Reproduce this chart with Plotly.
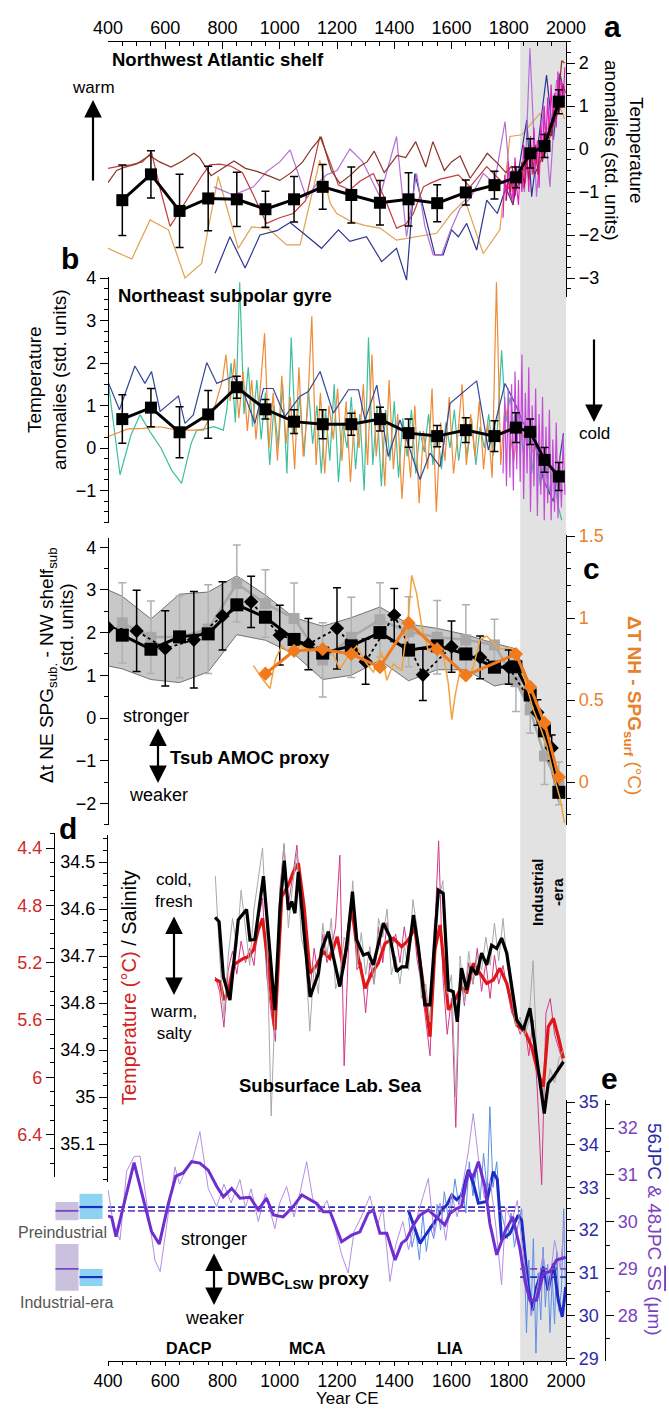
import plotly.graph_objects as go

FONT = "Liberation Sans, Arial, Helvetica, sans-serif"
W, H = 669, 1409
PLOT_L, PLOT_R = 108, 566
YEAR_MIN, YEAR_MAX = 400, 2000
INDUSTRIAL_START = 1840

# ---------------- a: Northwest Atlantic shelf (std. units) ----------------
bin_years = [450, 550, 650, 750, 850, 950, 1050, 1150, 1250, 1350, 1450, 1550,
             1650, 1750, 1825, 1875, 1925, 1975]
a_mean = [-1.19, -0.59, -1.44, -1.15, -1.17, -1.40, -1.17, -0.88, -1.07, -1.25,
          -1.17, -1.26, -1.01, -0.84, -0.66, -0.10, 0.07, 1.10]
a_err = [0.82, 0.55, 0.85, 0.75, 0.63, 0.42, 0.53, 0.52, 0.65, 0.52,
         0.62, 0.43, 0.29, 0.32, 0.24, 0.34, 0.27, 0.28]

a_maroon_years = [400, 430, 460, 500, 545, 580, 620, 660, 700, 720,
                  760, 800, 840, 880, 920, 960, 1000, 1040, 1080, 1110,
                  1145, 1180, 1210, 1245, 1280, 1305, 1330, 1365, 1410, 1440,
                  1475, 1510, 1535, 1575, 1600, 1630, 1665, 1700, 1725, 1760,
                  1790, 1810, 1830, 1850, 1870, 1890, 1910, 1930, 1950, 1970,
                  1985, 1995]
a_maroon = [-0.78, -0.5, -0.42, -0.35, -0.15, -0.3, -0.42, -0.28, -0.1, -0.2,
            -0.62, -0.45, -0.28, -0.45, -0.52, -0.62, -0.73, -0.55, -0.3, 0.0,
            0.28, -0.5, -0.8, -0.62, -0.4, -0.3, -0.05, -0.55, -0.15, -0.2,
            0.17, -0.42, 0.17, -0.5, -0.3, -0.16, -0.68, -0.35, -0.1, -0.33,
            -0.55, -0.4, -0.9, -0.5, -0.2, -0.6, -0.3, -0.05, 0.4, 0.9,
            2.05, 2.0]
a_red_years = [400, 440, 480, 520, 552, 585, 617, 650, 690, 730,
               756, 790, 830, 870, 910, 954, 1000, 1047, 1090, 1140,
               1170, 1205, 1245, 1280, 1327, 1370, 1408, 1440, 1467, 1502,
               1525, 1560, 1595, 1624, 1665, 1700, 1723, 1769, 1800, 1816]
a_red = [-0.45, -0.4, -0.37, -0.3, -0.08, -1.0, -1.8, -1.45, -1.0, -0.6,
         -0.37, -0.35, -0.4, -0.55, -1.1, -1.73, -1.6, -1.5, -1.2, 0.29,
         -0.2, -0.84, -0.95, -0.75, -0.57, -1.2, -1.84, -1.75, -1.5, -0.88,
         -0.8, -0.7, -0.65, -0.6, -0.88, -0.6, -0.41, -0.72, -0.9, -1.3]
a_violet_years = [770, 838, 908, 954, 1000, 1036, 1094, 1130, 1164, 1200,
                  1245, 1290, 1350, 1408, 1443, 1478, 1507, 1536, 1566, 1595,
                  1630, 1665, 1711, 1750, 1787, 1810, 1835, 1855, 1874, 1897,
                  1921, 1944, 1967, 1991]
a_violet = [-0.88, -1.07, -0.88, -0.53, -0.3, -0.02, -1.15, -0.8, -0.6, -0.5,
            0.0, -0.3, -1.11, 0.29, -2.04, -0.57, -1.8, -2.46, -2.46, -1.92,
            -1.38, -1.15, -0.57, -0.8, 0.64, -1.19, -0.4, -1.0, 2.34, -1.11,
            0.98, -0.88, 1.6, 1.45]
a_orange_years = [400, 483, 547, 611, 669, 727, 785, 855, 902, 960,
                  1024, 1071, 1140, 1176, 1199, 1251, 1300, 1350, 1408, 1478,
                  1548, 1600, 1647, 1711, 1769, 1804, 1845, 1880, 1909, 1932,
                  1955, 1979, 1995]
a_orange = [-2.31, -2.56, -1.65, -1.88, -3.0, -2.66, -0.64, -2.31, -1.81, -1.85,
            -2.23, -2.23, -0.26, -1.26, -1.5, -1.69, -1.78, -1.84, -2.12, -2.04,
            -1.96, -1.5, -1.19, -2.43, -1.88, 0.29, 0.33, 0.6, 0.83, 0.44,
            0.7, 0.98, 0.7]
a_navy_years = [774, 826, 879, 931, 990, 1036, 1090, 1146, 1205, 1245,
                1303, 1356, 1408, 1443, 1472, 1507, 1542, 1571, 1600, 1624,
                1653, 1688, 1723, 1760, 1790, 1815, 1840, 1863, 1880, 1905,
                1932, 1956, 1979, 1995]
a_navy = [-2.89, -2.04, -2.77, -2.0, -1.9, -1.71, -2.0, -2.31, -1.88, -2.15,
          -2.04, -2.62, -2.31, -3.05, -0.57, -1.53, -2.46, -2.46, -1.88, -2.04,
          -1.73, -2.35, -1.19, -1.5, -0.9, -1.3, -0.3, 0.68, -1.11, 0.2,
          1.72, 0.21, 1.76, 1.2]
a_magenta_years = list(range(1780, 1997, 6))
a_magenta = [-1.6, -0.6, -1.2, -0.3, -1.1, -0.5, -1.2, -0.2, -0.9, -1.3,
             -0.4, -1.0, 0.1, -0.8, -0.1, -1.0, 0.3, -0.6, 0.5, -0.4,
             0.2, -0.9, 0.6, -0.2, 1.0, 0.1, 1.2, 0.3, 1.5, 0.6,
             1.3, 0.5, 1.8, 0.9, 1.6, 1.1, 1.9]
a_crimson_years = list(range(1790, 1999, 8))
a_crimson = [-1.2, -0.7, -1.0, -0.5, -1.1, -0.6, -0.8, -0.3, -0.9, -0.2,
             -0.7, 0.0, -0.5, 0.1, -0.6, 0.2, -0.3, 0.4, 0.0, 0.6,
             0.3, 0.9, 0.7, 1.2, 1.0, 1.5, 1.3]

# ---------------- b: Northeast subpolar gyre (std. units) ----------------
b_mean = [0.68, 0.95, 0.37, 0.79, 1.43, 0.91, 0.62, 0.56, 0.56, 0.68,
          0.35, 0.28, 0.42, 0.28, 0.48, 0.38, -0.28, -0.67]
b_err = [0.57, 0.45, 0.60, 0.56, 0.26, 0.23, 0.28, 0.34, 0.26, 0.28,
         0.33, 0.25, 0.29, 0.36, 0.35, 0.30, 0.29, 0.33]

b_navy_years = [400, 440, 494, 529, 552, 582, 646, 669, 698, 745,
                780, 838, 880, 913, 943, 977, 1018, 1071, 1100, 1141,
                1187, 1240, 1275, 1298, 1339, 1379, 1420, 1467, 1490, 1525,
                1560, 1595, 1688, 1729, 1787, 1822, 1850, 1886, 1921, 1956,
                1991]
b_navy = [1.56, 0.9, 1.93, 1.52, 1.80, 0.86, 1.22, 0.58, 0.78, 2.01,
          1.52, 1.69, 1.2, 0.58, 1.40, 1.40, 0.74, 1.22, 1.33, 1.80,
          0.82, 1.37, 1.37, 0.66, 1.48, -0.2, 0.66, -0.28, -0.74, -0.12,
          -0.44, 1.05, 1.58, -0.05, 1.52, 1.05, 0.6, 0.27, -0.75, -1.26,
          0.35]
b_teal_early_years = [400, 442, 480, 512, 547, 585, 622, 657, 690, 710, 740, 770, 803]
b_teal_early = [1.6, -0.63, 0.3, 0.78, 0.38, 0.0, -0.52, -0.83, 0.1, 0.42, 0.45, 0.5, 0.42]
b_teal_late_years = list(range(815, 1986, 15))
b_teal_late = [0.9, 2.0, 0.6, 3.9, 0.8, 1.9, 0.5, 1.6, 0.2, 1.3,
               -0.4, 1.0, 0.0, 1.5, -0.6, 2.6, 0.3, 1.2, -0.2, 1.4,
               0.1, 1.0, -0.6, 0.9, -0.3, 1.5, -0.8, 0.6, 0.0, 1.2,
               -0.5, 0.8, -1.0, 2.6, -0.4, 1.0, -0.9, 0.9, -0.3, 1.1,
               -0.7, 0.7, -0.2, 0.9, -0.6, 0.4, -0.1, 0.8, -0.4, 0.5,
               -0.5, 0.6, 0.0, 0.9, -0.3, 0.5, -0.2, 0.7, -0.4, 0.5,
               0.0, 0.8, -0.2, 0.4, 2.3, 0.6, 1.2, 0.4, 0.9, -0.1,
               0.5, -0.6, 0.2, -0.9, -0.2, -1.1, -0.4, -1.3, -1.7]
b_orange_early_years = [400, 470, 523, 582, 640, 686, 733, 770, 800]
b_orange_early = [0.27, 0.45, 0.46, 0.5, 0.42, 0.42, 0.42, 0.9, 1.6]
b_orange_mid_years = list(range(812, 1833, 15))
b_orange_mid = [2.2, 1.1, 2.1, 0.7, 1.8, 0.4, 1.6, 0.2, 1.4, 2.7,
                0.0, 1.3, -0.3, 1.7, 0.1, 1.2, -0.5, 1.9, -0.2, 0.9,
                3.1, -0.4, 1.3, -0.6, 1.0, 0.2, 1.4, -0.3, 1.1, -0.8,
                0.9, 0.0, 1.5, -0.4, 2.2, -0.2, 1.0, -0.9, 1.6, -0.5,
                0.8, -1.2, 0.5, -0.7, 1.0, -1.3, 0.4, -0.5, 1.4, -1.5,
                0.6, -0.3, 1.2, -0.6, 0.3, 1.5, -0.4, 0.8, -0.2, 1.1,
                -0.5, 0.6, -0.7, 3.9, -0.4, 1.0, 0.5, -0.3, 0.4]
b_orange_late_years = [1850, 1868, 1886]
b_orange_late = [0.3, 0.1, -0.1]
b_magenta_years = list(range(1780, 1997, 6))
b_magenta = [-0.6, 1.2, -0.9, 1.4, -0.7, 1.5, -1.0, 1.8, -0.5, 1.6,
             -0.8, 2.2, -1.2, 1.3, -0.6, 1.9, -1.5, 1.0, -0.9, 1.4,
             -1.6, 0.8, -1.1, 1.2, -1.7, 0.5, -1.3, 0.9, -1.7, 0.2,
             -1.5, 0.6, -1.65, -0.2, -1.4, 0.3, -1.1]

# ---------------- c: Tsub AMOC proxy ----------------
c_black = [1.94, 1.61, 1.90, 1.97, 2.65, 2.36, 1.84, 1.52, 1.69, 2.00,
           1.59, 1.69, 1.50, 1.19, 1.20, 0.54, -0.30, -1.74]
c_gray = [2.23, 1.89, 1.90, 2.08, 3.15, 2.68, 2.33, 1.36, 1.89, 2.30,
          2.02, 1.89, 1.83, 1.71, 0.85, 0.19, -0.89, -1.53]
c_gray_err = [0.94, 0.85, 0.96, 1.04, 0.90, 0.79, 0.83, 0.87, 0.94, 0.87,
              0.82, 0.86, 0.82, 0.60, 0.70, 0.55, 0.67, 0.50]
c_band_years = [400, 450, 550, 650, 750, 850, 950, 1050, 1150, 1250,
                1350, 1450, 1550, 1650, 1750, 1825, 1875, 1925, 1975]
c_band_hi = [3.0, 2.85, 2.32, 2.9, 2.95, 3.33, 2.88, 2.35, 2.15, 2.35,
             2.6, 2.2, 2.1, 1.95, 1.75, 1.62, 0.75, -0.1, -1.6]
c_band_lo = [1.22, 1.15, 0.9, 0.83, 1.08, 1.95, 1.82, 1.5, 0.9, 1.0,
             1.35, 0.87, 1.13, 1.13, 0.75, 0.85, 0.3, -0.55, -2.0]
c_dia_years = [400, 500, 600, 700, 800, 900, 1000, 1100, 1200, 1300,
               1400, 1500, 1600, 1700, 1800, 1900, 1950]
c_dia = [2.12, 2.04, 1.63, 1.83, 2.39, 2.72, 1.94, 1.73, 2.10, 1.32,
         2.41, 1.01, 1.67, 1.42, 1.19, 0.13, -0.7]
c_dia_err = [0.0, 0.95, 0.88, 1.13, 0.8, 0.6, 0.7, 0.6, 0.95, 0.53,
             0.62, 0.6, 0.6, 0.5, 0.4, 0.3, 0.3]
c_or_years = [950, 1050, 1150, 1250, 1350, 1450, 1550, 1650, 1825, 1875, 1925, 1975]
c_or = [0.66, 0.80, 0.81, 0.78, 0.70, 0.97, 0.81, 0.65, 0.78, 0.58, 0.36, 0.03]
c_or_thin_years = [908, 943, 966, 985, 1007, 1040, 1071, 1110, 1146, 1180,
                   1210, 1240, 1269, 1300, 1327, 1356, 1374, 1397, 1426, 1449,
                   1461, 1478, 1496, 1519, 1548, 1571, 1589, 1601, 1612, 1630,
                   1653, 1676, 1700, 1723, 1746, 1769, 1804, 1828, 1863, 1886,
                   1909, 1933, 1956, 1979, 1995]
c_or_thin = [0.71, 0.62, 0.57, 0.75, 0.83, 0.78, 0.83, 0.80, 0.83, 0.80,
             0.69, 0.77, 0.83, 0.73, 0.67, 0.79, 0.62, 0.72, 0.68, 1.0,
             1.26, 1.15, 0.95, 0.8, 0.84, 0.78, 0.6, 0.38, 0.52, 0.68,
             0.62, 0.7, 0.87, 0.89, 0.85, 0.81, 0.82, 0.79, 0.58, 0.44,
             0.34, 0.22, 0.05, -0.1, -0.25]

# ---------------- d: Subsurface Labrador Sea ----------------
d_sal_years = [774, 788, 803, 826, 855, 884, 896, 913, 943, 978,
               983, 1001, 1016, 1030, 1042, 1053, 1065, 1106, 1135, 1146,
               1170, 1187, 1210, 1234, 1254, 1269, 1292, 1309, 1327, 1362,
               1385, 1408, 1426, 1443, 1467, 1484, 1507, 1525, 1554, 1571,
               1589, 1606, 1620, 1635, 1653, 1670, 1688, 1705, 1723, 1740,
               1758, 1775, 1793, 1828, 1851, 1874, 1898, 1924, 1938, 1956,
               1991]
d_sal = [34.618, 34.627, 34.744, 34.794, 34.623, 34.601, 34.666, 34.665, 34.530, 34.794,
         34.815, 34.595, 34.497, 34.602, 34.584, 34.609, 34.521, 34.787, 34.737, 34.687,
         34.648, 34.701, 34.765, 34.680, 34.563, 34.666, 34.698, 34.694, 34.719, 34.630,
         34.659, 34.733, 34.723, 34.723, 34.613, 34.680, 34.804, 34.804, 34.560, 34.567,
         34.772, 34.776, 34.840, 34.726, 34.772, 34.723, 34.740, 34.694, 34.719, 34.677,
         34.684, 34.662, 34.694, 34.836, 34.857, 34.811, 34.914, 35.035, 34.971, 34.957,
         34.925]
d_temp_years = [774, 791, 805, 820, 838, 855, 873, 890, 908, 925,
                940, 960, 983, 1007, 1030, 1048, 1065, 1085, 1106, 1129,
                1152, 1175, 1201, 1222, 1251, 1274, 1298, 1321, 1344, 1368,
                1397, 1426, 1449, 1472, 1496, 1525, 1542, 1560, 1589, 1612,
                1635, 1653, 1676, 1700, 1723, 1746, 1769, 1793, 1828, 1857,
                1880, 1903, 1921, 1938, 1956, 1973, 1991]
d_temp = [5.316, 5.333, 5.461, 5.403, 5.216, 5.193, 5.170, 5.159, 5.112, 4.972,
          4.891, 5.228, 5.67, 4.74, 4.658, 4.565, 4.507, 4.809, 5.275, 5.216,
          5.124, 5.17, 5.019, 5.240, 4.809, 5.159, 5.379, 5.275, 5.205, 5.065,
          5.03, 5.089, 5.042, 4.96, 5.275, 5.717, 5.112, 4.937, 5.53, 5.461,
          5.368, 5.414, 5.205, 5.275, 5.345, 5.321, 5.240, 5.345, 5.635, 5.682,
          5.787, 5.972, 6.066, 5.647, 5.589, 5.717, 5.868]
d_raw_years = list(range(775, 1991, 15))
d_sal_raw = [34.53, 34.70, 34.83, 34.70, 34.62, 34.68, 34.56, 34.64, 34.72, 34.60,
             34.54, 34.47, 34.66, 35.04, 34.78, 34.57, 34.46, 34.64, 34.55, 34.48,
             34.66, 34.70, 34.86, 34.72, 34.78, 34.63, 34.70, 34.62, 34.77, 34.74,
             34.66, 34.68, 34.54, 34.72, 34.65, 34.74, 34.68, 34.76, 34.62, 34.66,
             34.60, 34.74, 34.70, 34.76, 34.68, 34.73, 34.58, 34.64, 34.79, 34.76,
             34.84, 34.63, 34.58, 34.54, 34.78, 34.74, 35.00, 34.70, 34.80, 34.69,
             34.76, 34.70, 34.73, 34.66, 34.72, 34.63, 34.71, 34.62, 34.72, 34.78,
             34.85, 34.83, 34.87, 34.84, 34.71, 34.95, 34.98, 35.00, 34.94, 34.97,
             34.92, 34.90]
d_temp_raw = [5.30, 5.40, 5.65, 5.25, 5.12, 5.28, 5.05, 5.20, 5.10, 5.22,
              4.90, 4.75, 5.30, 5.55, 5.75, 4.70, 4.38, 4.80, 4.60, 4.38,
              4.80, 4.95, 5.40, 5.10, 5.30, 5.00, 5.20, 5.10, 4.95, 4.45,
              5.92, 5.10, 4.75, 5.25, 5.20, 5.55, 5.20, 5.35, 4.95, 5.20,
              4.92, 5.10, 5.00, 5.20, 4.95, 5.15, 4.88, 5.18, 5.35, 5.60,
              5.85, 5.05, 4.35, 5.30, 5.70, 5.45, 6.35, 5.25, 5.50, 5.20,
              5.35, 5.10, 5.40, 5.20, 5.45, 5.15, 5.35, 5.22, 5.40, 5.55,
              5.60, 5.70, 5.62, 5.85, 5.60, 6.10, 6.75, 5.55, 5.45, 5.70,
              5.80, 5.90]

# ---------------- e: DWBC_LSW proxy, sortable silt mean size (um) ----------------
e48_years = [400, 413, 428, 491, 552, 579, 611, 637, 663, 692,
             721, 750, 780, 803, 832, 861, 896, 925, 954, 978,
             1012, 1047, 1077, 1111, 1129, 1152, 1176, 1216, 1251, 1280,
             1309, 1327, 1350, 1374, 1403, 1426, 1443, 1467, 1490, 1519,
             1548, 1577, 1595, 1618, 1635, 1659, 1676, 1694, 1717, 1734,
             1758, 1787, 1814, 1839, 1857, 1874, 1897, 1921, 1944, 1967,
             1999]
e48 = [30.12, 30.09, 29.68, 31.26, 29.79, 29.52, 30.39, 30.97, 31.04, 31.28,
       31.25, 31.10, 30.75, 30.53, 30.71, 30.50, 30.52, 30.25, 30.50, 30.14,
       30.10, 30.32, 30.57, 30.46, 30.39, 30.21, 30.21, 29.57, 29.71, 29.78,
       30.18, 30.25, 29.75, 29.75, 29.18, 29.54, 29.62, 29.93, 30.14, 30.25,
       30.10, 29.93, 30.18, 30.28, 30.32, 31.07, 30.96, 31.28, 30.75, 29.96,
       29.29, 29.79, 30.10, 29.43, 28.72, 28.32, 28.32, 28.90, 28.93, 29.18,
       29.24]
e48_raw_years = [400, 420, 442, 465, 491, 512, 540, 564, 582, 610,
                 634, 650, 669, 695, 721, 750, 780, 805, 830, 861,
                 880, 900, 925, 950, 983, 1000, 1024, 1050, 1070, 1094,
                 1115, 1140, 1165, 1190, 1216, 1239, 1260, 1285, 1315, 1340,
                 1360, 1385, 1405, 1430, 1450, 1470, 1490, 1519, 1540, 1560,
                 1580, 1600, 1620, 1640, 1659, 1676, 1695, 1715, 1735, 1755,
                 1775, 1790, 1810, 1830, 1845, 1860, 1880, 1900, 1920, 1940,
                 1960, 1980, 1995]
e48_raw = [30.68, 29.9, 29.61, 31.07, 31.39, 31.40, 30.2, 29.18, 28.93, 30.2,
           31.17, 30.8, 31.07, 31.3, 31.92, 30.71, 30.32, 30.8, 30.4, 30.9,
           30.3, 30.7, 30.0, 30.6, 29.85, 30.4, 30.75, 30.1, 30.6, 31.28,
           30.5, 30.2, 30.45, 29.95, 29.3, 28.9, 29.8, 30.1, 30.55, 29.9,
           30.3, 28.72, 29.5, 30.0, 29.4, 29.9, 30.3, 30.92, 29.7, 30.4,
           29.6, 30.6, 30.1, 30.8, 31.5, 32.31, 31.3, 30.5, 30.9, 29.9,
           28.65, 30.3, 30.0, 30.45, 29.6, 28.9, 28.0, 28.6, 29.3, 28.5,
           29.6, 29.0, 30.0]
e56_years = [1449, 1467, 1490, 1513, 1537, 1566, 1585, 1601, 1618, 1635,
             1659, 1676, 1694, 1723, 1746, 1760, 1775, 1804, 1833, 1845,
             1868, 1883, 1897, 1921, 1938, 1956, 1973, 1987, 1999]
e56 = [32.47, 32.12, 31.69, 31.92, 32.15, 32.47, 32.6, 32.82, 32.71, 32.82,
       33.41, 33.1, 32.63, 32.67, 33.37, 33.18, 31.77, 31.92, 32.35, 32.23,
       30.67, 30.12, 30.67, 31.14, 30.59, 31.22, 30.36, 29.97, 30.67]
e56_raw_years = [1450, 1462, 1475, 1488, 1500, 1512, 1525, 1538, 1550, 1562,
                 1575, 1588, 1600, 1612, 1625, 1638, 1650, 1662, 1675, 1688,
                 1700, 1712, 1725, 1734, 1745, 1758, 1770, 1782, 1795, 1808,
                 1820, 1832, 1845, 1855, 1862, 1870, 1878, 1886, 1895, 1903,
                 1912, 1920, 1928, 1936, 1944, 1952, 1960, 1968, 1976, 1984,
                 1992, 1999]
e56_raw = [32.3, 31.6, 32.0, 31.3, 32.4, 31.5, 32.1, 31.8, 32.6, 32.0,
           32.9, 32.3, 32.5, 33.2, 32.6, 33.0, 32.4, 33.6, 32.8, 33.5,
           32.7, 33.8, 32.9, 34.89, 33.0, 33.6, 32.5, 32.2, 31.8, 32.4,
           31.6, 32.1, 32.5, 31.2, 29.59, 31.3, 30.0, 31.8, 29.12, 31.0,
           29.9, 31.6, 30.2, 31.2, 29.6, 30.9, 29.8, 31.5, 30.1, 30.6,
           32.5, 30.3]

# period statistics (preindustrial, industrial-era)
periods = [(YEAR_MIN, INDUSTRIAL_START), (INDUSTRIAL_START, YEAR_MAX)]
ss48_mean = [30.23, 28.99]
ss48_lo = [30.03, 28.52]
ss48_hi = [30.42, 29.52]
ss56_mean = [32.54, 30.90]
ss56_lo = [32.26, 30.69]
ss56_hi = [32.85, 31.09]

# ---------------- colours ----------------
ORANGE_AX = "#e8822a"
RED_AX = "#d02a2a"
BLUE_AX = "#2b2ba8"
PURPLE_AX = "#7c3fc0"


def px(x):
    return x / W


def py(y):
    return 1 - y / H


def dom(top, bot):
    return [1 - bot / H, 1 - top / H]


def vrange(top, bot, ref_px, ref_val, ppu, reverse=False):
    s = -1.0 if reverse else 1.0
    return [ref_val + s * (ref_px - bot) / ppu, ref_val + s * (ref_px - top) / ppu]


def axis(**kw):
    d = dict(showgrid=False, zeroline=False, showline=True, linecolor="black", linewidth=1.4,
             ticks="outside", ticklen=8, tickwidth=1.4, tickcolor="black",
             tickfont=dict(family=FONT, size=18, color="black"),
             automargin=False, fixedrange=True)
    d.update(kw)
    return d


def minor(dt, ticks="outside", ln=4):
    return dict(ticks=ticks, dtick=dt, ticklen=ln, tickwidth=1.2, tickcolor="black", showgrid=False)


fig = go.Figure()


def line(xs, ys, color, width, yaxis, xaxis="x", dash="solid"):
    fig.add_trace(go.Scatter(x=xs, y=ys, mode="lines", line=dict(color=color, width=width, dash=dash),
                             xaxis=xaxis, yaxis=yaxis, hoverinfo="skip", showlegend=False))


def binned(xs, ys, err, yaxis, color="black", symbol="square", size=12, width=3, dash="solid",
           errcolor="black"):
    fig.add_trace(go.Scatter(
        x=xs, y=ys, mode="lines+markers", xaxis="x", yaxis=yaxis,
        line=dict(color=color, width=width, dash=dash),
        marker=dict(symbol=symbol, size=size, color=color),
        error_y=dict(type="data", array=err, color=errcolor, thickness=1.5, width=4)
        if err is not None else None,
        hoverinfo="skip", showlegend=False))


# ---- a ----
line(a_orange_years, a_orange, "#e1a24e", 1.2, "y")
line(a_navy_years, a_navy, "#2c3690", 1.2, "y")
line(a_violet_years, a_violet, "#b56ed6", 1.2, "y")
line(a_red_years, a_red, "#c23a3a", 1.2, "y")
line(a_maroon_years, a_maroon, "#8a3324", 1.2, "y")
line(a_magenta_years, a_magenta, "#e01fc4", 1.2, "y")
line(a_crimson_years, a_crimson, "#b8154e", 1.2, "y")
binned(bin_years, a_mean, a_err, "y")

# ---- b ----
line(b_teal_early_years + b_teal_late_years, b_teal_early + b_teal_late, "#3cbfa0", 1.2, "y2")
line(b_orange_early_years + b_orange_mid_years + b_orange_late_years,
     b_orange_early + b_orange_mid + b_orange_late, "#ef8a36", 1.2, "y2")
line(b_navy_years, b_navy, "#33489a", 1.2, "y2")
line(b_magenta_years, b_magenta, "#c44ad8", 1.2, "y2")
binned(bin_years, b_mean, b_err, "y2")

# ---- c ----
line(c_band_years, c_band_lo, "#555555", 0.8, "y3")
fig.add_trace(go.Scatter(x=c_band_years, y=c_band_hi, mode="lines", xaxis="x", yaxis="y3",
                         line=dict(color="#555555", width=0.8), fill="tonexty",
                         fillcolor="#c8c8c8", hoverinfo="skip", showlegend=False))
binned(bin_years, c_gray, c_gray_err, "y3", color="#a8a8a8", size=11, width=2.5,
       errcolor="#b0b0b0")
binned(c_dia_years, c_dia, c_dia_err, "y3", symbol="diamond", size=11, width=1.8, dash="dot")
binned(bin_years, c_black, None, "y3", size=13, width=3)
line(c_or_thin_years, c_or_thin, "#f2a23e", 1.5, "y4")
fig.add_trace(go.Scatter(x=c_or_years, y=c_or, mode="lines+markers", xaxis="x", yaxis="y4",
                         line=dict(color="#f07a1c", width=3),
                         marker=dict(symbol="diamond", size=11, color="#f07a1c"),
                         hoverinfo="skip", showlegend=False))

# ---- d ---- (drawn on hidden twins so the spikes are not clipped)
line(d_raw_years, d_temp_raw, "#d4378a", 1.0, "y7")
line(d_raw_years, d_sal_raw, "#a8a8a8", 1.0, "y8")
line(d_temp_years, d_temp, "#e01515", 3.2, "y7")
line(d_sal_years, d_sal, "black", 3.2, "y8")
for ya in ("y5", "y6"):
    line([None], [None], "black", 1, ya)

# ---- e ----
line(e48_raw_years, e48_raw, "#b58ee0", 1.0, "y10")
line(e56_raw_years, e56_raw, "#5d8ee6", 1.0, "y9")
line(e48_years, e48, "#6f2fd0", 3.0, "y10")
line(e56_years, e56, "#1c2cc4", 3.0, "y9")
for (p0, p1), m56, m48 in zip(periods, ss56_mean, ss48_mean):
    line([p0, p1], [m56, m56], "#2030b8", 1.8, "y9", dash="7px,3px")
    line([p0, p1], [m48, m48], "#7b45c8", 1.8, "y10", dash="7px,3px")

# period boxes left of the axis
for i in range(len(periods)):
    fig.add_trace(go.Bar(x=[0.5], y=[ss48_hi[i] - ss48_lo[i]], base=[ss48_lo[i]], width=[0.96],
                         marker=dict(color="#c9c1dd", line=dict(width=0)),
                         xaxis="x3", yaxis="y10", hoverinfo="skip", showlegend=False))
    fig.add_trace(go.Bar(x=[1.5], y=[ss56_hi[i] - ss56_lo[i]], base=[ss56_lo[i]], width=[0.96],
                         marker=dict(color="#8dd3f1", line=dict(width=0)),
                         xaxis="x3", yaxis="y9", hoverinfo="skip", showlegend=False))
    line([0.02, 0.98], [ss48_mean[i]] * 2, "#7b45c8", 1.8, "y10", xaxis="x3")
    line([1.02, 1.98], [ss56_mean[i]] * 2, "#1c2cc4", 2.2, "y9", xaxis="x3")

# top year axis
line([None], [None], "black", 1, "y", xaxis="x2")

x_frac = (INDUSTRIAL_START - YEAR_MIN) / (YEAR_MAX - YEAR_MIN)
shade_x0 = px(PLOT_L + x_frac * (PLOT_R - PLOT_L))

fig.update_layout(
    width=W, height=H, template="none",
    margin=dict(l=0, r=0, t=0, b=0, pad=0),
    paper_bgcolor="white", plot_bgcolor="rgba(0,0,0,0)", showlegend=False, barmode="overlay",
    font=dict(family=FONT, size=18, color="black"),
    xaxis=axis(domain=[px(PLOT_L), px(PLOT_R)], range=[YEAR_MIN, YEAR_MAX], anchor="free",
               position=py(1361), side="bottom", tick0=400, dtick=200, ticklen=4,
               tickfont=dict(family=FONT, size=17.5, color="black"),
               minor=minor(50, ln=3)),
    xaxis2=axis(overlaying="x", range=[YEAR_MIN, YEAR_MAX], anchor="free", position=py(41),
                side="top", ticks="inside", ticklen=7, tick0=400, dtick=200,
                minor=minor(50, "inside")),
    xaxis3=dict(domain=[px(55), px(103)], range=[0, 2], visible=False, fixedrange=True,
                anchor="free", position=0),
    yaxis=axis(domain=dom(41, 297), range=vrange(41, 297, 149, 0, 43), anchor="free",
               position=px(PLOT_R), side="right", tick0=0, dtick=1, minor=minor(0.25)),
    yaxis2=axis(domain=dom(277, 523), range=vrange(277, 523, 448, 0, 42.5), anchor="free",
                position=px(PLOT_L), side="left", tick0=0, dtick=1, minor=minor(0.25)),
    yaxis3=axis(domain=dom(538, 825), range=vrange(538, 825, 718, 0, 42.7), anchor="free",
                position=px(PLOT_L), side="left", tick0=0, dtick=1, minor=minor(0.5)),
    yaxis4=axis(domain=dom(535, 825), range=vrange(535, 825, 782, 0, 164), anchor="free",
                position=px(PLOT_R), side="right", tick0=0, dtick=0.5, minor=minor(0.1),
                tickfont=dict(family=FONT, size=18, color=ORANGE_AX)),
    yaxis5=axis(domain=dom(833, 1177), range=vrange(833, 1177, 848, 4.4, 143.3, True),
                anchor="free", position=px(54), side="left", tick0=4.4, dtick=0.4,
                minor=minor(0.1), tickfont=dict(family=FONT, size=18, color=RED_AX)),
    yaxis6=axis(domain=dom(835, 1182), range=vrange(835, 1182, 862, 34.5, 470, True),
                anchor="free", position=px(107), side="left", tick0=34.5, dtick=0.1,
                minor=minor(0.025)),
    yaxis7=dict(domain=dom(795, 1195), range=vrange(795, 1195, 848, 4.4, 143.3, True),
                visible=False, anchor="free", position=px(PLOT_L), fixedrange=True),
    yaxis8=dict(domain=dom(795, 1195), range=vrange(795, 1195, 862, 34.5, 470, True),
                visible=False, anchor="free", position=px(PLOT_L), fixedrange=True),
    yaxis9=axis(domain=dom(1100, 1361), range=vrange(1100, 1361, 1102, 35, 42.7), anchor="free",
                position=px(PLOT_R), side="right", tick0=29, dtick=1, minor=minor(0.25),
                tickfont=dict(family=FONT, size=18, color=BLUE_AX)),
    yaxis10=axis(domain=dom(1100, 1361), range=vrange(1100, 1361, 1362, 27, 46.8), anchor="free",
                 position=px(605), side="right", tick0=27, dtick=1, minor=minor(0.5),
                 tickfont=dict(family=FONT, size=18, color=PURPLE_AX)),
    shapes=[dict(type="rect", xref="paper", yref="paper", x0=shade_x0, x1=px(PLOT_R),
                 y0=py(1361), y1=py(41), fillcolor="#e2e2e2", line=dict(width=0), layer="below")],
)


def label(x, y, text, size=18, color="black", angle=0, xanchor="center", yanchor="middle",
          pad=1):
    return dict(x=px(x), y=py(y), xref="paper", yref="paper", text=text, showarrow=False,
                font=dict(family=FONT, size=size, color=color), textangle=angle,
                xanchor=xanchor, yanchor=yanchor, borderpad=pad)


def arrow(x, y_head, y_tail, double=False):
    return dict(x=px(x), y=py(y_head), xref="paper", yref="paper", text="", showarrow=True,
                ax=0, ay=y_tail - y_head, axref="pixel", ayref="pixel",
                arrowhead=2, startarrowhead=2, arrowsize=1.6, startarrowsize=1.6,
                arrowwidth=2.2, arrowcolor="black", standoff=0, startstandoff=0,
                arrowside="end+start" if double else "end")


ann = [
    # panel letters
    label(612, 26, "<b>a</b>", 30), label(70, 258, "<b>b</b>", 30), label(591, 568, "<b>c</b>", 30),
    label(68, 828, "<b>d</b>", 30), label(609, 1078, "<b>e</b>", 30),
    # a
    label(110, 60, "<b>Northwest Atlantic shelf</b>", 18.5, xanchor="left"),
    label(93, 88, "warm", 17), arrow(93, 100, 182),
    label(624, 150, "Temperature<br>anomalies (std. units)", 19, angle=90),
    # b
    label(116, 295, "<b>Northeast subpolar gyre</b>", 18.5, xanchor="left"),
    label(47, 380, "Temperature<br>anomalies (std. units)", 19, angle=-90),
    label(594, 433, "cold", 17), arrow(594, 422, 338),
    # c
    label(48, 665, "\u0394t NE SPG<sub>sub.</sub> - NW shelf<sub>sub</sub>", 19, angle=-90),
    label(67, 628, "(std. units)", 19, angle=-90),
    label(633, 705, "<b>\u0394T NH - SPG<sub>surf</sub></b> (\u00b0C)", 19, color=ORANGE_AX, angle=90),
    label(156, 716, "stronger", 18), label(158, 795, "weaker", 18),
    label(168, 757, "<b>Tsub AMOC proxy</b>", 18.5, xanchor="left"),
    arrow(158, 783, 727, double=True),
    # d
    label(129, 988, "<span style='color:#d42020'>Temperature (\u00b0C)</span> / Salinity", 20,
          angle=-90),
    label(174, 890, "cold,<br>fresh", 17), label(174, 1022, "warm,<br>salty", 17),
    arrow(174, 995, 915, double=True),
    label(330, 1085, "<b>Subsurface Lab. Sea</b>", 18.5),
    label(547, 892, "<b>Industrial<br>-era</b>", 15, angle=-90),
    # e
    label(655, 1229, "<span style='color:#2b2ba8'>56JPC</span> &amp; 48JPC "
                     "<span style='text-decoration:overline'>SS</span> (\u03bcm)",
          19, color=PURPLE_AX, angle=90),
    label(214, 1239, "stronger", 18), label(214, 1318, "weaker", 18),
    label(225, 1280, "<b>DWBC<sub>LSW</sub> proxy</b>", 18.5, xanchor="left"),
    arrow(214, 1305, 1252, double=True),
    label(63, 1232, "Preindustrial", 16, color="#555555"),
    label(66, 1302, "Industrial-era", 16, color="#555555"),
    label(189, 1348, "<b>DACP</b>", 16), label(307, 1348, "<b>MCA</b>", 16),
    label(450, 1348, "<b>LIA</b>", 16),
    label(347, 1409, "Year CE", 17, yanchor="bottom", pad=0),
]
fig.update_layout(annotations=ann)

fig.write_html("out.html")
